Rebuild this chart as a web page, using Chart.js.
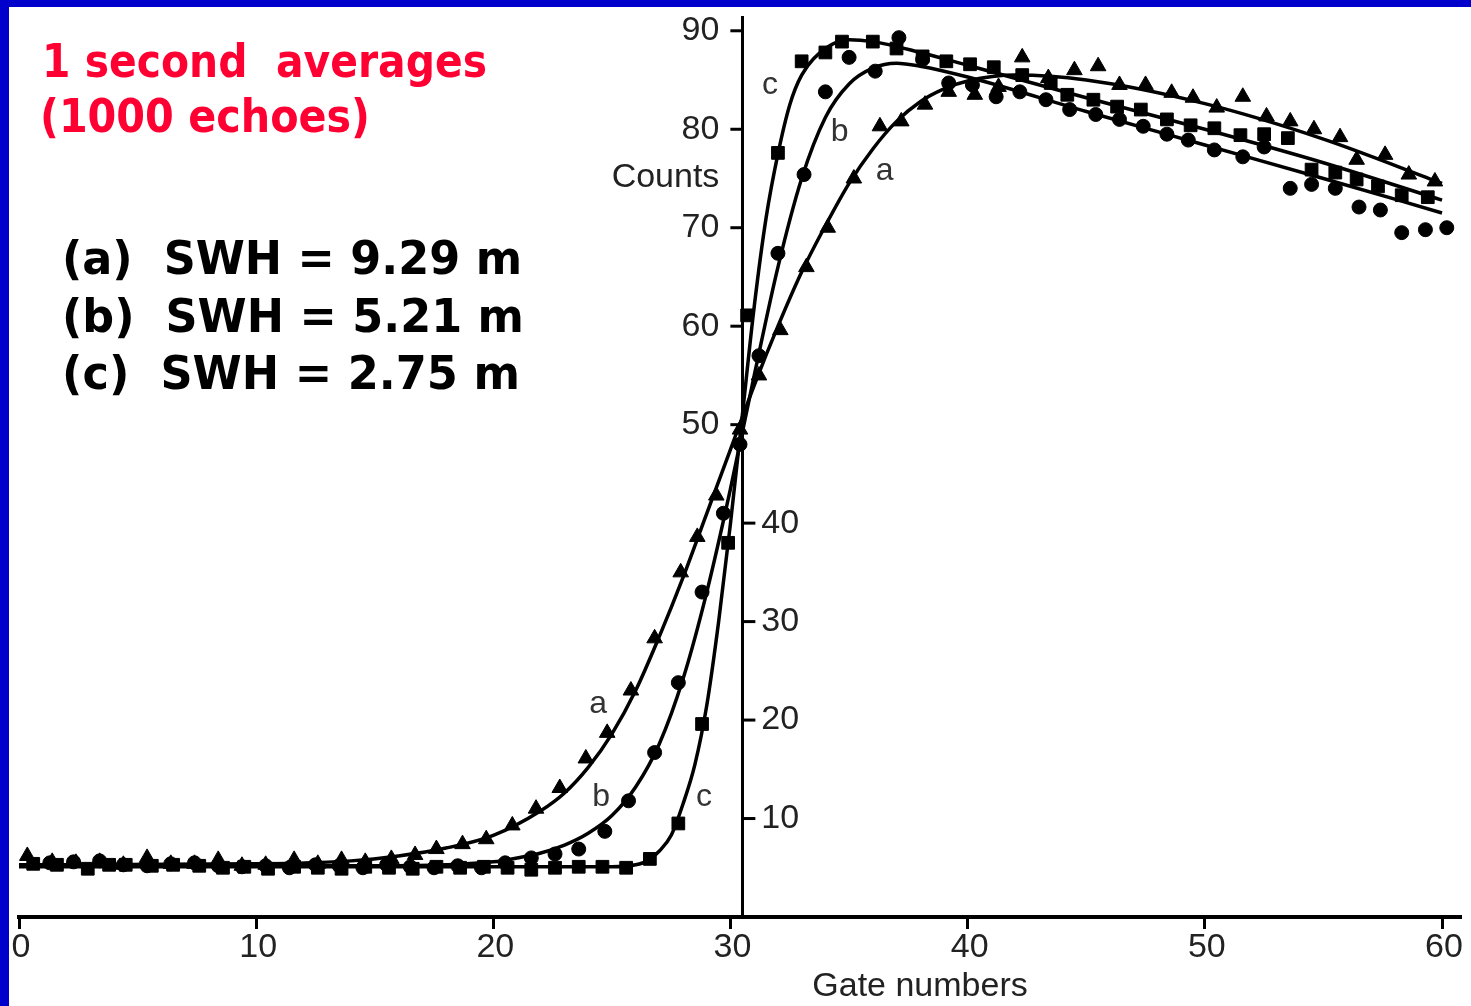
<!DOCTYPE html>
<html lang="en">
<head>
<meta charset="UTF-8" />
<title>1 second averages - waveforms</title>
<script src="https://cdn.jsdelivr.net/npm/chart.js"></script>
<style>
  html, body { margin: 0; padding: 0; }
  body { background: #0000cc; width: 1471px; height: 1006px; overflow: hidden; }
  .frame { position: absolute; left: 9px; top: 7px; width: 1462px; height: 999px; background: #fff; }
</style>
</head>
<body>
<div class="frame"><canvas id="waveChart" width="1462" height="999"></canvas></div>
<script>
// axis ticks
const gateTicks = [0, 10, 20, 30, 40, 50, 60];
const countTicks = [10, 20, 30, 40, 50, 60, 70, 80, 90];

// (a) SWH 9.29 m - triangles
const aGates = [0.35,1.4,2.4,3.4,4.4,5.4,6.4,7.4,8.4,9.4,10.4,11.6,12.6,13.6,14.6,15.7,16.7,17.6,18.7,19.7,20.8,21.8,22.8,23.9,24.8,25.8,26.8,27.9,28.6,29.4,30.4,31.2,32.1,33.2,34.1,35.2,36.3,37.2,38.2,39.2,40.3,41.3,42.3,43.4,44.5,45.5,46.4,47.5,48.6,49.5,50.5,51.6,52.6,53.6,54.6,55.7,56.4,57.6,58.6,59.7];
const aCounts = [6.2,5.6,5.5,5.6,5.3,6.0,5.4,5.4,5.8,5.2,5.3,5.8,5.4,5.8,5.6,5.9,6.3,6.9,7.4,7.9,9.3,11.0,13.1,16.1,18.7,23.0,28.3,35.0,38.6,42.8,49.5,55.0,59.6,66.0,70.0,75.0,80.3,80.8,82.5,83.8,83.5,84.3,87.3,85.2,86.0,86.4,84.5,84.5,83.7,83.2,82.2,83.3,81.3,80.8,80.0,79.2,76.9,77.4,75.4,74.7];

// (b) SWH 5.21 m - circles
const bGates = [1.3,2.3,3.4,4.4,5.4,6.4,7.4,8.4,9.4,10.4,11.4,12.5,13.5,14.5,15.5,16.5,17.5,18.5,19.5,20.5,21.6,22.6,23.6,24.7,25.7,26.8,27.8,28.8,29.7,30.4,31.2,32.0,33.1,34.0,35.0,36.1,37.1,38.1,39.2,40.2,41.2,42.2,43.3,44.3,45.4,46.4,47.4,48.4,49.3,50.4,51.6,52.5,53.6,54.5,55.5,56.5,57.4,58.3,59.3,60.2];
const bCounts = [5.5,5.6,5.7,5.3,5.2,5.4,5.5,5.2,5.1,5.2,5.0,5.3,5.2,5.0,5.3,5.1,5.0,5.2,5.0,5.5,6.0,6.4,6.9,8.7,11.8,16.7,23.8,33.0,41.0,48.0,57.0,67.4,75.4,83.8,87.3,85.9,89.3,87.1,84.7,84.5,83.3,83.8,83.0,82.0,81.5,81.0,80.3,79.5,78.9,77.9,77.2,78.2,74.0,74.4,74.0,72.1,71.8,69.5,69.8,70.0];

// (c) SWH 2.75 m - squares
const cGates = [0.6,1.6,2.9,3.8,4.5,5.6,6.5,7.6,8.6,9.5,10.5,11.6,12.6,13.6,14.6,15.6,16.6,17.6,18.6,19.6,20.6,21.6,22.6,23.6,24.6,25.6,26.6,27.8,28.8,29.9,30.7,32.0,33.0,34.0,34.7,36.0,37.0,38.1,39.1,40.1,41.1,42.3,43.5,44.2,45.3,46.3,47.3,48.4,49.4,50.4,51.5,52.5,53.5,54.5,55.5,56.4,57.3,58.3,59.4];
const cCounts = [5.4,5.3,4.9,5.3,5.3,5.2,5.3,5.2,5.0,5.1,4.9,5.1,5.0,4.9,5.1,5.0,4.9,5.1,5.0,5.1,5.0,4.8,5.0,5.1,5.1,5.0,5.9,9.5,19.6,38.0,61.1,77.6,86.9,87.8,88.9,88.9,88.2,87.4,86.9,86.6,86.3,85.5,84.7,83.5,83.0,82.3,82.0,81.0,80.4,80.1,79.4,79.5,79.1,75.9,75.6,74.9,74.2,73.3,73.1];

// fitted curves
const fitAGates = [0,10,14,16,18,20,22,23,24,25,26,27,28,29,30,31,32,33,34,35,36,37,38,39,40,42,45,50,55,60];
const fitACounts = [5.3,5.4,5.7,6.2,7.0,8.3,10.8,12.6,15.2,18.6,23.0,28.5,34.5,41.0,47.5,54.0,60.0,65.5,70.2,74.5,78.0,80.8,82.8,84.1,84.9,85.5,85.0,82.6,79.0,74.5];
const fitBGates = [0,15,18,20,21,22,23,24,25,26,27,28,29,30,31,32,33,34,35,36,37,38,40,45,50,55,60];
const fitBCounts = [5.2,5.2,5.3,5.6,6.0,6.5,7.3,8.5,10.3,13.2,17.6,24.2,33.0,43.5,55.0,66.0,75.0,81.2,84.6,86.2,86.7,86.4,85.3,81.8,78.4,75.0,71.5];
const fitCGates = [0,25,26,26.5,27,27.5,28,28.5,29,29.5,30,30.5,31,31.5,32,32.5,33,34,35,36,38,40,45,50,55,60];
const fitCCounts = [5.1,5.1,5.3,5.7,6.7,8.3,11.5,15.5,21.5,30.0,40.0,51.0,62.0,71.0,77.5,82.5,85.5,88.2,89.1,88.9,87.8,86.5,83.2,80.0,76.6,72.8];

// curve letters, placed in data units
const curveNames = ['c', 'b', 'a', 'a', 'b', 'c'];
const nameGates = [31.66, 34.6, 36.5, 24.42, 24.55, 28.88];
const nameCounts = [84.5, 79.7, 75.7, 21.66, 12.13, 12.13];

const titleLines = ['1 second  averages', '(1000 echoes)'];
const swhLines = ['(a)  SWH = 9.29 m', '(b)  SWH = 5.21 m', '(c)  SWH = 2.75 m'];

const pts = (xs, ys) => xs.map((x, i) => ({x: x, y: ys[i]}));

function pointSet(label, xs, ys, style, r) {
  return {
    label: label, data: pts(xs, ys), showLine: false,
    pointStyle: style, pointRadius: r, pointHoverRadius: r,
    backgroundColor: '#000', borderColor: '#000', borderWidth: 1
  };
}
function fitSet(label, xs, ys) {
  return {
    label: label, data: pts(xs, ys), showLine: true,
    cubicInterpolationMode: 'monotone', pointRadius: 0,
    borderColor: '#000', borderWidth: 3.5, fill: false
  };
}

// draw fixed text with a horizontal squeeze/stretch to the target width
function fitText(ctx, text, x, y, width, size, color) {
  ctx.save();
  ctx.font = 'bold ' + size + 'px "DejaVu Sans", sans-serif';
  ctx.fillStyle = color;
  ctx.textBaseline = 'middle';
  ctx.textAlign = 'left';
  const w = ctx.measureText(text).width;
  ctx.translate(x, y);
  ctx.scale(width / w, 1);
  ctx.fillText(text, 0, 0);
  ctx.restore();
}

const extras = {
  id: 'extras',
  afterDraw(chart) {
    const ctx = chart.ctx;
    const xs = chart.scales.x, ys = chart.scales.y;
    const axisX = xs.getPixelForValue(30.5);
    ctx.save();
    ctx.fillStyle = '#222';
    ctx.strokeStyle = '#000';
    ctx.lineWidth = 3;
    ctx.font = '34px "Liberation Sans", Arial, sans-serif';

    // x tick labels
    ctx.textAlign = 'center';
    ctx.textBaseline = 'middle';
    gateTicks.forEach(v => ctx.fillText(String(v), xs.getPixelForValue(v) + 2, 941));

    // y ticks: upper half to the left, lower half to the right
    countTicks.forEach(v => {
      const py = ys.getPixelForValue(v);
      ctx.beginPath();
      if (v >= 50) {
        ctx.moveTo(axisX - 12, py); ctx.lineTo(axisX, py); ctx.stroke();
        ctx.textAlign = 'right';
        ctx.fillText(String(v), axisX - 23, py);
      } else {
        ctx.moveTo(axisX, py); ctx.lineTo(axisX + 13, py); ctx.stroke();
        ctx.textAlign = 'left';
        ctx.fillText(String(v), axisX + 19, py);
      }
    });

    ctx.textAlign = 'right';
    ctx.fillText('Counts', axisX - 23, 171);
    ctx.textAlign = 'center';
    ctx.fillText('Gate numbers', 911, 980);

    ctx.font = '32px "Liberation Sans", Arial, sans-serif';
    ctx.fillStyle = '#333';
    curveNames.forEach((n, i) => {
      ctx.fillText(n, xs.getPixelForValue(nameGates[i]), ys.getPixelForValue(nameCounts[i]));
    });
    ctx.restore();

    fitText(ctx, titleLines[0], 33, 58, 445, 46, '#ff0033');
    fitText(ctx, titleLines[1], 31, 113, 330, 46, '#ff0033');
    fitText(ctx, swhLines[0], 53, 255, 460, 46, '#000');
    fitText(ctx, swhLines[1], 53, 313, 462, 46, '#000');
    fitText(ctx, swhLines[2], 53, 370, 458, 46, '#000');
  }
};

new Chart(document.getElementById('waveChart'), {
  type: 'scatter',
  data: {
    datasets: [
      fitSet('fit a', fitAGates, fitACounts),
      fitSet('fit b', fitBGates, fitBCounts),
      fitSet('fit c', fitCGates, fitCCounts),
      pointSet('a', aGates, aCounts, 'triangle', 9),
      pointSet('b', bGates, bCounts, 'circle', 7),
      pointSet('c', cGates, cCounts, 'rect', 9)
    ]
  },
  options: {
    responsive: false,
    animation: false,
    events: [],
    layout: { padding: { left: 9, right: 9, top: 8, bottom: 0 } },
    plugins: { legend: { display: false }, tooltip: { enabled: false } },
    scales: {
      x: {
        type: 'linear', position: 'bottom', min: 0, max: 60.8,
        afterBuildTicks: s => { s.ticks = gateTicks.map(v => ({value: v})); },
        afterFit: s => { s.height = 89; },
        ticks: { display: false },
        grid: { drawOnChartArea: false, drawTicks: true, tickLength: 12, tickWidth: 3, tickColor: '#000' },
        border: { display: true, color: '#000', width: 4 }
      },
      y: {
        type: 'linear', position: { x: 30.5 }, min: 0, max: 91.4,
        afterBuildTicks: s => { s.ticks = countTicks.map(v => ({value: v})); },
        ticks: { display: false },
        grid: { display: false },
        border: { display: true, color: '#000', width: 3 }
      }
    }
  },
  plugins: [extras]
});
</script>
</body>
</html>
